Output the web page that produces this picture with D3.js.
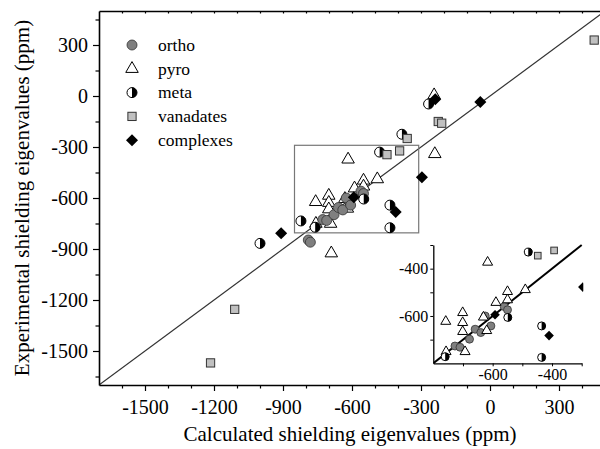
<!DOCTYPE html>
<html lang="en">
<head>
<meta charset="utf-8">
<title>Shielding eigenvalues</title>
<script src="https://d3js.org/d3.v7.min.js"></script>
<style>
  body { margin: 0; background: #fff; }
  text { font-family: "Liberation Serif", "Times New Roman", serif; fill: #000; }
</style>
</head>
<body>
<script>
// data: [calculated, experimental] in ppm
var ortho = [[-727,-727],[-710,-732],[-678,-698],[-659,-656],[-640,-670],[-625,-600],
             [-606,-642],[-561,-560],[-550,-574],[-790,-847],[-781,-860]];
var pyro = [[-690,-925],[-240,-341],[-243,5],[-617,-373],[-758,-623],[-701,-586],
            [-701,-628],[-701,-666],[-693,-751],[-757,-751],[-620,-662],[-631,-605],
            [-589,-543],[-550,-497],[-550,-532],[-490,-489]];
var meta = [[-1000,-867],[-822,-735],[-480,-330],[-383,-225],[-267,-47],[-435,-642],
            [-435,-775],[-549,-606],[-760,-772]];
var vanadates = [[453,329],[-1215,-1570],[-1110,-1255],[-225,-150],[-210,-160],
                 [-360,-250],[-393,-323],[-448,-345]];
var complexes = [[-42,-35],[-238,-19],[-296,-478],[-410,-683],[-908,-808],[-592,-595]];

var seriesNames = ["ortho", "pyro", "meta", "vanadates", "complexes"];
var mainOrder = ["pyro", "ortho", "meta", "vanadates", "complexes"];
var xTicks = d3.range(-1600, 401, 100);
var yTicks = d3.range(-1650, 451, 150);
var insetTicks = [-700, -600, -500, -400, -300];
var insetLabels = [-600, -400];
var zoomBox = [-850, -310, -805, -290]; // x0, x1, y0, y1

var w = 600, h = 449;
var svg = d3.select("body").append("svg").attr("width", w).attr("height", h);

var x = d3.scaleLinear().domain([-1700, 500]).range([99, 605]);
var y = d3.scaleLinear().domain([-1700, 500]).range([385, 11]);

var xi = d3.scaleLinear().domain([-800, -300]).range([433.3, 581.7]);
var yi = d3.scaleLinear().domain([-800, -300]).range([363.3, 245]);

svg.append("clipPath").attr("id", "main-clip").append("rect")
   .attr("x", 99).attr("y", 11).attr("width", 506).attr("height", 374);

// marker drawing, s = radius-like size
function marker(g, kind, cx, cy, s) {
  if (kind == "ortho") {
    g.append("circle").attr("cx", cx).attr("cy", cy).attr("r", s)
     .attr("fill", "#7f7f7f").attr("stroke", "#333").attr("stroke-width", 0.8);
  } else if (kind == "pyro") {
    var tw = s * 2.5;
    g.append("path")
     .attr("d", d3.symbol(d3.symbolTriangle, Math.sqrt(3) / 4 * tw * tw)())
     .attr("transform", "translate(" + cx + "," + cy + ")")
     .attr("fill", "#fff").attr("stroke", "#000").attr("stroke-width", 1);
  } else if (kind == "meta") {
    g.append("circle").attr("cx", cx).attr("cy", cy).attr("r", s)
     .attr("fill", "#fff").attr("stroke", "#000").attr("stroke-width", 1);
    g.append("path")
     .attr("d", "M" + cx + "," + (cy - s) + "A" + s + "," + s + " 0 0 1 " + cx + "," + (cy + s) + "Z")
     .attr("fill", "#000");
  } else if (kind == "vanadates") {
    var side = s * 1.65;
    g.append("rect").attr("x", cx - side / 2).attr("y", cy - side / 2)
     .attr("width", side).attr("height", side)
     .attr("fill", "#c0c0c0").attr("stroke", "#333").attr("stroke-width", 1);
  } else {
    var sd = s * 1.7;
    g.append("rect").attr("x", -sd / 2).attr("y", -sd / 2)
     .attr("width", sd).attr("height", sd)
     .attr("transform", "translate(" + cx + "," + cy + ") rotate(45)")
     .attr("fill", "#000");
  }
}

var allData = { ortho: ortho, pyro: pyro, meta: meta, vanadates: vanadates, complexes: complexes };

// diagonal y = x
var plot = svg.append("g").attr("clip-path", "url(#main-clip)");
plot.append("line")
    .attr("x1", x(-1700)).attr("y1", y(-1700)).attr("x2", x(500)).attr("y2", y(500))
    .attr("stroke", "#333").attr("stroke-width", 1.2);

// zoom rectangle
plot.append("rect")
    .attr("x", x(zoomBox[0])).attr("y", y(zoomBox[3]))
    .attr("width", x(zoomBox[1]) - x(zoomBox[0]))
    .attr("height", y(zoomBox[2]) - y(zoomBox[3]))
    .attr("fill", "none").attr("stroke", "#777").attr("stroke-width", 1.2);

mainOrder.forEach(function(name) {
  allData[name].forEach(function(d) {
    marker(plot, name, x(d[0]), y(d[1]), 5);
  });
});

// main axes
var tickFmt = function(d) { return d.toString(); };
var xAxis = svg.append("g").attr("transform", "translate(0,385)")
   .call(d3.axisBottom(x).tickValues(xTicks).tickSizeOuter(0)
         .tickFormat(function(d) { return d % 300 == 0 ? tickFmt(d) : ""; }));
xAxis.selectAll(".tick line").attr("y2", function(d) { return d % 300 == 0 ? 6 : 3.5; });
xAxis.selectAll(".tick text").attr("y", 15).attr("font-size", 20);

var yAxis = svg.append("g").attr("transform", "translate(99,0)")
   .call(d3.axisLeft(y).tickValues(yTicks).tickSizeOuter(0)
         .tickFormat(function(d) { return d % 300 == 0 ? tickFmt(d) : ""; }));
yAxis.selectAll(".tick line").attr("x2", function(d) { return d % 300 == 0 ? -6 : -3.5; });
yAxis.selectAll(".tick text").attr("x", -11).attr("font-size", 20);

var topAxis = svg.append("g").attr("transform", "translate(0,11)")
   .call(d3.axisTop(x).tickValues(xTicks).tickSize(-2.5).tickSizeOuter(0).tickFormat(""));

svg.selectAll(".domain").attr("stroke-width", 1.6);
svg.selectAll(".tick line").attr("stroke-width", 1.2);
svg.selectAll(".tick text").style("font-family", "Liberation Serif, serif");

// axis titles
svg.append("text").attr("x", 350).attr("y", 441).attr("text-anchor", "middle")
   .attr("font-size", 21).text("Calculated shielding eigenvalues (ppm)");
svg.append("text").attr("transform", "translate(29,198) rotate(-90)")
   .attr("text-anchor", "middle").attr("font-size", 21)
   .text("Experimental shielding eigenvalues (ppm)");

// legend
var legend = svg.append("g");
seriesNames.forEach(function(name, i) {
  var ly = 45 + i * 23.8;
  marker(legend, name, 132, ly, 5);
  legend.append("text").attr("x", 158).attr("y", ly).attr("dy", "0.33em")
        .attr("font-size", 17.5).text(name);
});

// inset
var inset = svg.append("g");
svg.append("clipPath").attr("id", "inset-clip").append("rect")
   .attr("x", 433.3).attr("y", 243).attr("width", 150).attr("height", 121);
var insetPlot = inset.append("g").attr("clip-path", "url(#inset-clip)");
insetPlot.append("line")
   .attr("x1", xi(-800)).attr("y1", yi(-800)).attr("x2", xi(-300)).attr("y2", yi(-300))
   .attr("stroke", "#000").attr("stroke-width", 2);
seriesNames.forEach(function(name) {
  allData[name].forEach(function(d) {
    if (d[0] >= -820 && d[0] <= -280 && d[1] >= -820 && d[1] <= -280)
      marker(insetPlot, name, xi(d[0]), yi(d[1]), 4);
  });
});

var ixAxis = inset.append("g").attr("transform", "translate(0,363.3)")
   .call(d3.axisBottom(xi).tickValues(insetTicks).tickSize(3).tickSizeOuter(0)
         .tickFormat(function(d) { return insetLabels.indexOf(d) >= 0 ? tickFmt(d) : ""; }));
ixAxis.selectAll(".tick text").attr("y", 5).attr("font-size", 16);
var iyAxis = inset.append("g").attr("transform", "translate(433.3,0)")
   .call(d3.axisLeft(yi).tickValues(insetTicks).tickSize(3).tickSizeOuter(0)
         .tickFormat(function(d) { return insetLabels.indexOf(d) >= 0 ? tickFmt(d) : ""; }));
iyAxis.selectAll(".tick text").attr("x", -5).attr("font-size", 16);
inset.selectAll(".domain").attr("stroke-width", 1.3);
inset.selectAll(".tick text").style("font-family", "Liberation Serif, serif");
</script>
</body>
</html>
